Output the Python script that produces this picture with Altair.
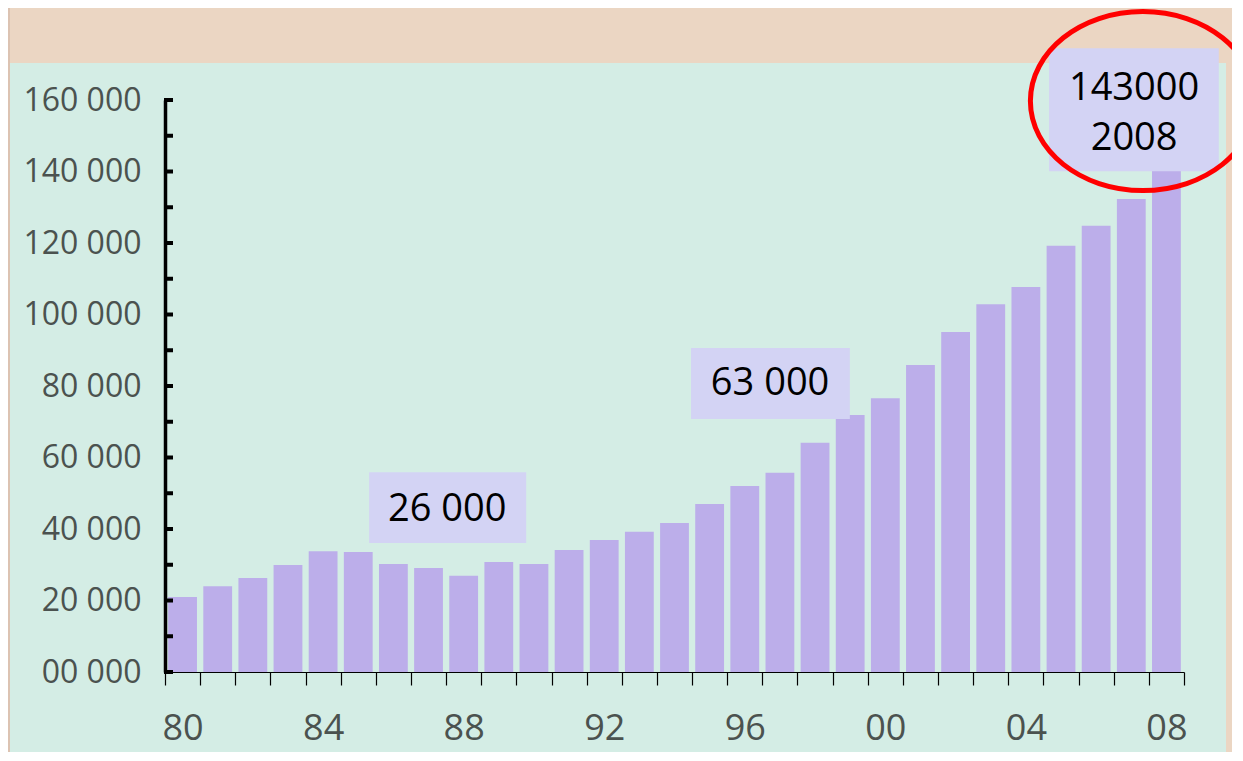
import altair as alt
import pandas as pd

# ---- data ----
years = list(range(1980, 2009))
values = [21000, 24000, 26300, 29900, 33800, 33600, 30200, 29100, 26900, 30800,
          30200, 34100, 36900, 39200, 41700, 47000, 52000, 55700, 64100, 71900,
          76600, 85900, 95100, 102900, 107700, 119200, 124800, 132300, 143000]

y_tick_values = [0, 10000, 20000, 30000, 40000, 50000, 60000, 70000, 80000,
                 90000, 100000, 110000, 120000, 130000, 140000, 150000, 160000]
y_label_values = [0, 20000, 40000, 60000, 80000, 100000, 120000, 140000, 160000]
x_edge_values = [y - 0.5 for y in years] + [years[-1] + 0.5]

ann_text = ["26 000", "63 000", "143000\n2008"]
ann_tx = [1987.53, 1996.72, 2007.08]
ann_ty = [45400, 80600, 163000]
ann_x1 = [1985.31, 1994.47, 2004.66]
ann_x2 = [1989.78, 1998.99, 2009.49]
ann_y1 = [36100, 70800, 140100]
ann_y2 = [55900, 90600, 174500]

circle_year = [2007.33]
circle_value = [159700]

# ---- tables ----
bars = pd.DataFrame({"year": years, "value": values})
ticks = pd.DataFrame({"v": y_tick_values})
ann = pd.DataFrame({"text": ann_text, "tx": ann_tx, "ty": ann_ty,
                    "x1": ann_x1, "x2": ann_x2, "y1": ann_y1, "y2": ann_y2})
circ = pd.DataFrame({"year": circle_year, "value": circle_value})
one = pd.DataFrame({"k": [0]})

xscale = alt.Scale(domain=[1979.5, 2008.5], nice=False, zero=False)
yscale = alt.Scale(domain=[0, 160000], nice=False)

FONT = "Open Sans"
LABEL_COLOR = "#4b524f"
PEACH = "#ebd6c3"

xaxis = alt.Axis(values=x_edge_values, grid=False, domain=True, title=None,
                 domainColor="black", domainWidth=1.2,
                 ticks=True, tickColor="black", tickWidth=1.2, tickSize=13,
                 labelExpr="((datum.value + 0.5 - 1980) % 4 == 0 && datum.value < 2008.6) ? substring(toString(datum.value + 0.5), 2) : ''",
                 labelOffset=17.57, labelPadding=26, labelOverlap=False,
                 labelFlush=False, labelFont=FONT, labelFontSize=36,
                 labelColor=LABEL_COLOR, zindex=3)
yaxis = alt.Axis(values=y_label_values, grid=False, domain=True, title=None,
                 domainColor="black", domainWidth=3.5, ticks=False,
                 tickSize=0, labelPadding=24,
                 labelExpr="datum.value == 0 ? '00 000' : replace(format(datum.value, ','), ',', ' ')",
                 labelFont=FONT, labelFontSize=32, labelColor=LABEL_COLOR,
                 labelOverlap=False, labelFlush=False, zindex=3)

# peach photo border around the mint panel (mint is the chart background)
top_strip = alt.Chart(one).mark_rect(color=PEACH).encode(
    x=alt.value(-170), x2=alt.value(1100), y=alt.value(-100), y2=alt.value(-37)
)
left_strip = alt.Chart(one).mark_rect(color="#dcc3b2").encode(
    x=alt.value(-170), x2=alt.value(-155), y=alt.value(-100), y2=alt.value(700)
)
right_strip = alt.Chart(one).mark_rect(color=PEACH).encode(
    x=alt.value(1061), x2=alt.value(1100), y=alt.value(-100), y2=alt.value(700)
)

bar_layer = alt.Chart(bars).transform_calculate(
    x0="datum.year - 0.41", x1="datum.year + 0.41"
).mark_bar(color="#bcaeea").encode(
    x=alt.X("x0:Q", scale=xscale, axis=xaxis),
    x2="x1:Q",
    y=alt.Y("value:Q", scale=yscale, axis=yaxis),
    y2=alt.datum(0),
)

tick_layer = alt.Chart(ticks).mark_rule(color="black", strokeWidth=4).encode(
    y=alt.Y("v:Q", scale=yscale, axis=yaxis),
    x=alt.value(-1), x2=alt.value(8),
)

box_layer = alt.Chart(ann).mark_rect(color="#d3d3f4").encode(
    x=alt.X("x1:Q", scale=xscale, axis=xaxis), x2="x2:Q",
    y=alt.Y("y1:Q", scale=yscale, axis=yaxis), y2="y2:Q",
)

text_layer = alt.Chart(ann).mark_text(
    font=FONT, fontSize=38, color="black", lineBreak="\n", lineHeight=50,
    align="center", baseline="middle"
).encode(
    x=alt.X("tx:Q", scale=xscale, axis=xaxis),
    y=alt.Y("ty:Q", scale=yscale, axis=yaxis),
    text="text:N",
)

ellipse_path = ("M1,0 C1,0.4394 0.5523,0.7956 0,0.7956 "
                "C-0.5523,0.7956 -1,0.4394 -1,0 "
                "C-1,-0.4394 -0.5523,-0.7956 0,-0.7956 "
                "C0.5523,-0.7956 1,-0.4394 1,0 Z")

circle_layer = alt.Chart(circ).mark_point(
    shape=ellipse_path, size=50625, filled=False, stroke="#ff0000",
    strokeWidth=5, opacity=1
).encode(
    x=alt.X("year:Q", scale=xscale, axis=xaxis),
    y=alt.Y("value:Q", scale=yscale, axis=yaxis),
)

chart = alt.layer(
    top_strip, left_strip, right_strip, bar_layer, tick_layer,
    box_layer, text_layer, circle_layer
).properties(
    width=1019, height=572,
    padding={"left": 157, "top": 92, "right": 48, "bottom": 80},
    autosize=alt.AutoSizeParams(type="none"),
    background="#d4ede5",
).configure_view(stroke=None)

chart.save("out.html", embed_options={"renderer": "svg", "actions": False})
